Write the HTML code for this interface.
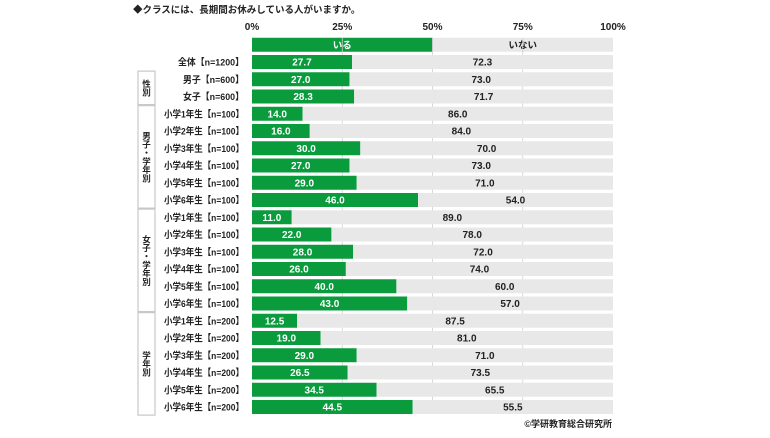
<!DOCTYPE html>
<html><head><meta charset="utf-8"><style>
body{margin:0;width:770px;height:433px;background:#fff;overflow:hidden;font-family:"Liberation Sans","Noto Sans CJK JP",sans-serif;}
svg text{font-family:"Liberation Sans","Noto Sans CJK JP",sans-serif;font-weight:bold;}
</style></head><body>
<svg id="c" width="770" height="433">
<text x="133" y="13" font-size="9.5" fill="#222">◆クラスには、長期間お休みしている人がいますか。</text>
<text x="612" y="427" font-size="9" text-anchor="end" fill="#222">©学研教育総合研究所</text>
</svg>
<script>
const labels=["全体【n=1200】","男子【n=600】","女子【n=600】","小学1年生【n=100】","小学2年生【n=100】","小学3年生【n=100】","小学4年生【n=100】","小学5年生【n=100】","小学6年生【n=100】","小学1年生【n=100】","小学2年生【n=100】","小学3年生【n=100】","小学4年生【n=100】","小学5年生【n=100】","小学6年生【n=100】","小学1年生【n=200】","小学2年生【n=200】","小学3年生【n=200】","小学4年生【n=200】","小学5年生【n=200】","小学6年生【n=200】"];
const iru=[27.7,27.0,28.3,14.0,16.0,30.0,27.0,29.0,46.0,11.0,22.0,28.0,26.0,40.0,43.0,12.5,19.0,29.0,26.5,34.5,44.5];
const inai=[72.3,73.0,71.7,86.0,84.0,70.0,73.0,71.0,54.0,89.0,78.0,72.0,74.0,60.0,57.0,87.5,81.0,71.0,73.5,65.5,55.5];
const ticks=[0,25,50,75,100];
const groups=[{name:"性別",from:1,to:2},{name:"男子・学年別",from:3,to:8},{name:"女子・学年別",from:9,to:14},{name:"学年別",from:15,to:20}];
const NS="http://www.w3.org/2000/svg",svg=document.getElementById('c');
const x0=252,W=361,y0=62,pitch=17.25,bh=14;
const X=v=>x0+v/100*W, Y=i=>y0+i*pitch;
function el(t,a,p){const e=document.createElementNS(NS,t);for(const k in a)e.setAttribute(k,a[k]);(p||svg).appendChild(e);return e;}
ticks.forEach(t=>{const e=el('text',{x:X(t),y:30,'font-size':10,'text-anchor':'middle',fill:'#222'});e.textContent=t+'%';

});
let h=el('rect',{x:X(0),y:Y(-1)-bh/2,width:X(50)-X(0),height:bh,fill:'#0a9b3d'});


h=el('rect',{x:X(50),y:Y(-1)-bh/2,width:X(100)-X(50),height:bh,fill:'#e8e8e8'});


let t=el('text',{x:X(25),y:Y(-1)+3.5,'font-size':9.5,'text-anchor':'middle',fill:'#fff'});t.textContent='いる';


t=el('text',{x:X(75),y:Y(-1)+3.5,'font-size':9.5,'text-anchor':'middle',fill:'#222'});t.textContent='いない';


[25,50,75].forEach(v=>{const g=el('line',{x1:X(v),x2:X(v),y1:Y(-1)-bh/2,y2:Y(20)+bh/2,stroke:'#cfcfcf','stroke-width':0.8});

});
labels.forEach((l,i)=>{
 const y=Y(i);
 let r=el('rect',{x:X(0),y:y-bh/2,width:X(iru[i])-X(0),height:bh,fill:'#0a9b3d'});
 
 
 r=el('rect',{x:X(iru[i]),y:y-bh/2,width:X(iru[i]+inai[i])-X(iru[i]),height:bh,fill:'#e8e8e8'});
 
 
 let a=el('text',{x:(X(0)+X(iru[i]))/2,y:y+3.5,'font-size':10,'text-anchor':'middle',fill:'#fff'});a.textContent=iru[i].toFixed(1);
 
 
 a=el('text',{x:(X(iru[i])+X(iru[i]+inai[i]))/2,y:y+3.5,'font-size':10,'text-anchor':'middle',fill:'#222'});a.textContent=inai[i].toFixed(1);
 
 
 const len=l.startsWith('小学')?80:(l.startsWith('全体')?66:61);
 a=el('text',{x:244-len,y:y+3.5,'font-size':9.5,fill:'#222',textLength:len,lengthAdjust:'spacingAndGlyphs'});a.textContent=l;
 
 
});
groups.forEach(g=>{
 const top=Y(g.from)-pitch/2+0.5,bot=Y(g.to)+pitch/2-0.5;
 const b=el('rect',{x:138,y:top,width:17,height:bot-top,fill:'none',stroke:'#c8c8c8','stroke-width':1.2});
 
 
 const chars=[...g.name],n=chars.length,mid=(top+bot)/2;
 chars.forEach((c,k)=>{const tt=el('text',{x:146.5,y:mid+(k-(n-1)/2)*8.5+3.2,'font-size':8.5,'text-anchor':'middle',fill:'#222'});tt.textContent=c;
 
 });
});
</script>
</body></html>
